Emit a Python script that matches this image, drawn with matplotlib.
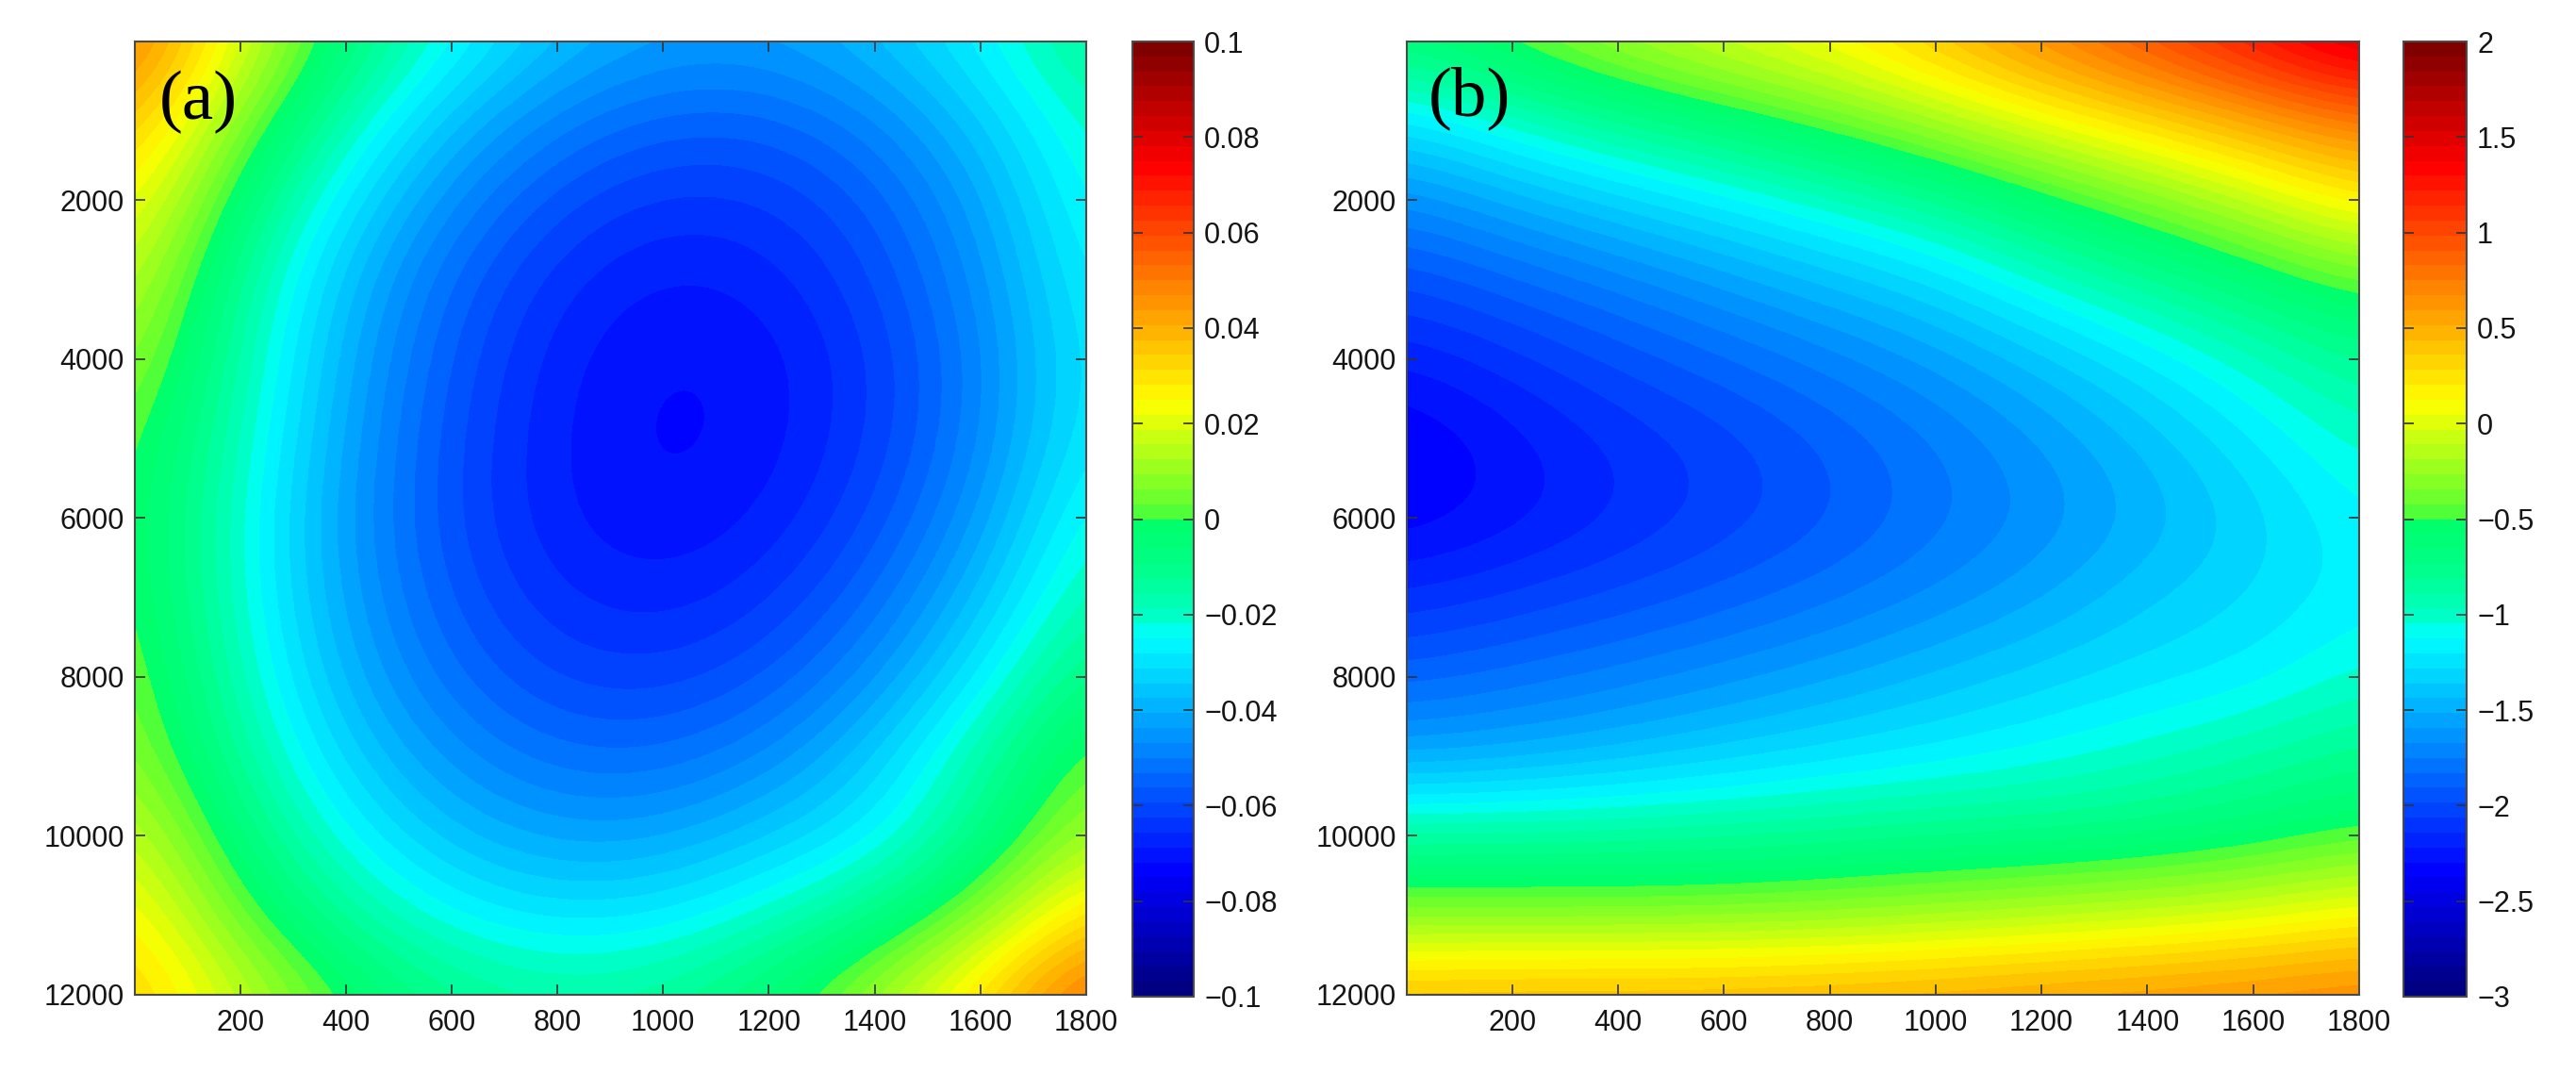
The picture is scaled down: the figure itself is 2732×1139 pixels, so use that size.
import numpy as np
import matplotlib
matplotlib.use("Agg")
import matplotlib.pyplot as plt
from matplotlib.colors import LinearSegmentedColormap

W, H = 2732, 1139

x_grid = [0, 200, 400, 600, 800, 1000, 1200, 1400, 1600, 1800]
y_grid = [0, 1000, 2000, 3000, 4000, 5000, 6000, 7000, 8000, 9000, 10000, 11000, 12000]

field_a = [
    [0.052, 0.020, -0.006, -0.024, -0.037, -0.043, -0.043, -0.037, -0.026, -0.012],
    [0.038, 0.0066, -0.018, -0.037, -0.049, -0.055, -0.055, -0.048, -0.035, -0.019],
    [0.026, -0.005, -0.029, -0.047, -0.0587, -0.064, -0.063, -0.056, -0.042, -0.0224],
    [0.017, -0.013, -0.0366, -0.054, -0.065, -0.0698, -0.068, -0.060, -0.046, -0.0256],
    [0.010, -0.0164, -0.040, -0.0572, -0.068, -0.0726, -0.071, -0.063, -0.0485, -0.0278],
    [0.004, -0.019, -0.042, -0.059, -0.069, -0.0734, -0.071, -0.0627, -0.0478, -0.0267],
    [0.002, -0.0214, -0.0436, -0.0594, -0.0688, -0.072, -0.0688, -0.0594, -0.0436, -0.0214],
    [0.003, -0.0212, -0.0423, -0.0572, -0.0657, -0.068, -0.0638, -0.0534, -0.0366, -0.016],
    [0.006, -0.0187, -0.039, -0.0529, -0.0605, -0.0617, -0.0567, -0.0453, -0.0276, -0.007],
    [0.009, -0.0137, -0.033, -0.0459, -0.0525, -0.0529, -0.0469, -0.0345, -0.0159, 0.004],
    [0.018, -0.0065, -0.0248, -0.0368, -0.0425, -0.0419, -0.0349, -0.027, -0.010, 0.012],
    [0.027, 0.0034, -0.014, -0.0251, -0.0298, -0.0282, -0.0203, -0.010, 0.007, 0.032],
    [0.035, 0.0164, -0.0004, -0.0108, -0.015, -0.0127, -0.0042, 0.0107, 0.0318, 0.055],
]

field_b = [
    [-0.62, -0.42, -0.20, -0.02, 0.15, 0.42, 0.72, 1.00, 1.30, 1.62],
    [-1.25, -1.00, -0.80, -0.62, -0.43, -0.20, 0.06, 0.30, 0.55, 0.78],
    [-1.68, -1.50, -1.33, -1.17, -1.00, -0.82, -0.58, -0.35, -0.10, 0.20],
    [-1.98, -1.85, -1.72, -1.57, -1.42, -1.27, -1.03, -0.83, -0.63, -0.42],
    [-2.22, -2.10, -1.97, -1.85, -1.72, -1.58, -1.40, -1.20, -1.00, -0.80],
    [-2.40, -2.26, -2.13, -2.03, -1.90, -1.76, -1.60, -1.42, -1.21, -1.00],
    [-2.37, -2.27, -2.15, -2.04, -1.93, -1.79, -1.66, -1.50, -1.33, -1.13],
    [-2.13, -2.05, -1.97, -1.88, -1.78, -1.66, -1.53, -1.37, -1.28, -1.16],
    [-1.87, -1.80, -1.72, -1.63, -1.53, -1.42, -1.32, -1.24, -1.18, -1.02],
    [-1.55, -1.50, -1.42, -1.33, -1.25, -1.18, -1.10, -1.00, -0.89, -0.77],
    [-0.85, -0.85, -0.84, -0.82, -0.78, -0.74, -0.72, -0.68, -0.60, -0.48],
    [-0.33, -0.33, -0.33, -0.32, -0.28, -0.22, -0.15, -0.08, 0.00, 0.13],
    [0.50, 0.52, 0.52, 0.53, 0.55, 0.58, 0.62, 0.66, 0.70, 0.75],
]

x_ticks = [200, 400, 600, 800, 1000, 1200, 1400, 1600, 1800]
y_ticks = [2000, 4000, 6000, 8000, 10000, 12000]
cbar_ticks_a = [-0.1, -0.08, -0.06, -0.04, -0.02, 0, 0.02, 0.04, 0.06, 0.08, 0.1]
cbar_labels_a = ["\u22120.1", "\u22120.08", "\u22120.06", "\u22120.04", "\u22120.02", "0",
                 "0.02", "0.04", "0.06", "0.08", "0.1"]
cbar_ticks_b = [-3, -2.5, -2, -1.5, -1, -0.5, 0, 0.5, 1, 1.5, 2]
cbar_labels_b = ["\u22123", "\u22122.5", "\u22122", "\u22121.5", "\u22121", "\u22120.5", "0",
                 "0.5", "1", "1.5", "2"]

# colour stops (fraction of range, RGB 0-255)
cmap_stops = [
    (0.000, (0, 0, 128)), (0.125, (0, 0, 255)), (0.375, (0, 255, 255)),
    (0.400, (0, 255, 190)), (0.450, (0, 255, 135)), (0.499, (0, 255, 105)),
    (0.509, (90, 255, 50)), (0.625, (255, 255, 0)), (0.750, (255, 128, 0)),
    (0.875, (255, 0, 0)), (1.000, (128, 0, 0)),
]

plt.rcParams["font.family"] = ["Liberation Sans", "DejaVu Sans"]
FS = 22
EDGE = "#4a4a4a"
cmap = LinearSegmentedColormap.from_list(
    "ref_jet", [(t, tuple(c / 255 for c in rgb)) for t, rgb in cmap_stops], N=64)

fig = plt.figure(figsize=(W / 100, H / 100), dpi=100, facecolor="white")


def px_axes(l, t, r, b):
    return fig.add_axes([l / W, 1 - b / H, (r - l) / W, (b - t) / H])


def panel(box, cbox, field, vmin, vmax, cticks, clabels, tag, tagxy):
    ax = px_axes(*box)
    dx = x_grid[1] - x_grid[0]
    dy = y_grid[1] - y_grid[0]
    extent = (x_grid[0] - dx / 2, x_grid[-1] + dx / 2, y_grid[-1] + dy / 2, y_grid[0] - dy / 2)
    im = ax.imshow(np.array(field), extent=extent, cmap=cmap, vmin=vmin, vmax=vmax,
                   aspect="auto", interpolation="bicubic", interpolation_stage="data")
    ax.set_xlim(1, 1800)
    ax.set_ylim(12000, 1)
    ax.set_xticks(x_ticks)
    ax.set_yticks(y_ticks)
    ax.tick_params(axis="both", direction="in", length=8, width=1.2, color="#333333",
                   top=True, right=True, labelsize=FS, labelcolor="#151515")
    ax.tick_params(axis="x", pad=11)
    ax.tick_params(axis="y", pad=8)
    for s in ax.spines.values():
        s.set_color(EDGE)
        s.set_linewidth(1.5)
    fig.text(tagxy[0] / W, 1 - tagxy[1] / H, tag, family="Liberation Serif", fontsize=54,
             ha="center", va="center", color="black")

    cax = px_axes(*cbox)
    cb = fig.colorbar(im, cax=cax)
    cb.set_ticks(cticks)
    cb.set_ticklabels(clabels)
    cax.tick_params(axis="y", direction="in", length=8, width=1.2, color="#333333",
                    left=True, right=True, labelsize=FS, pad=8, labelcolor="#151515")
    cb.outline.set_edgecolor(EDGE)
    cb.outline.set_linewidth(1.5)
    return ax


panel((143, 44, 1152, 1055), (1201, 44, 1266, 1057), field_a, -0.1, 0.1,
      cbar_ticks_a, cbar_labels_a, "(a)", (210, 108))
panel((1492, 44, 2502, 1055), (2549, 44, 2616, 1057), field_b, -3, 2,
      cbar_ticks_b, cbar_labels_b, "(b)", (1558, 104))

fig.savefig("out.png", dpi=100, facecolor="white")
